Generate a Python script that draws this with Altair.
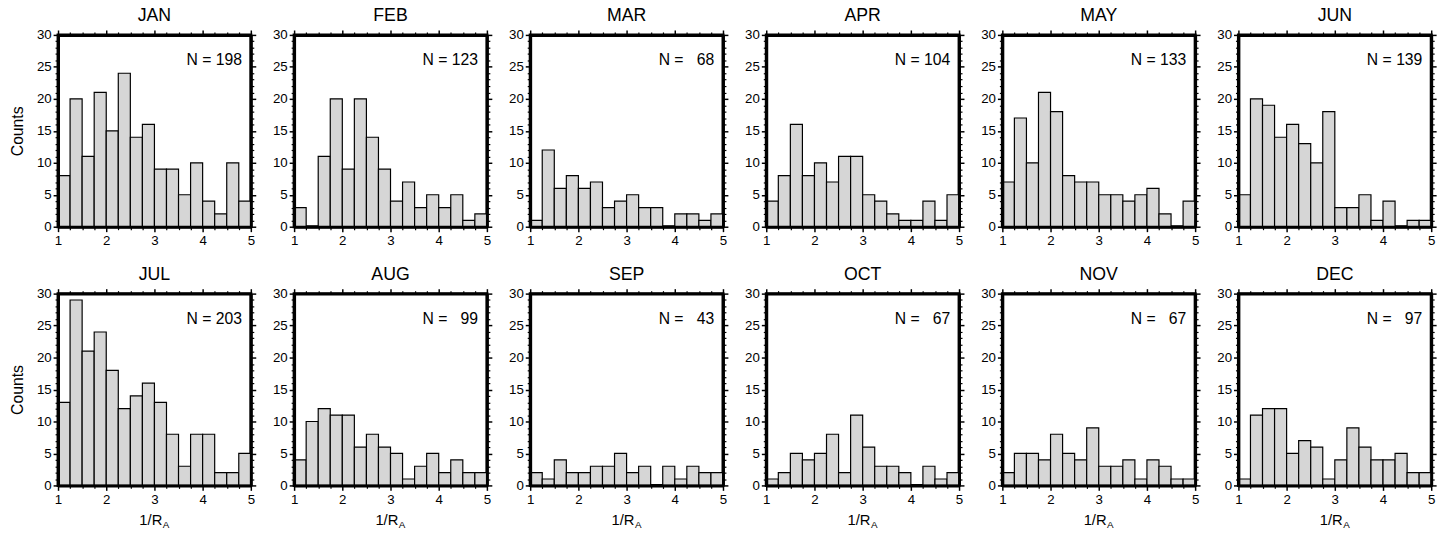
import altair as alt
import pandas as pd

# ---- data: monthly histograms of 1/R_A, bins of width 0.25 from 1 to 5 ----
MONTHS = ["JAN", "FEB", "MAR", "APR", "MAY", "JUN",
          "JUL", "AUG", "SEP", "OCT", "NOV", "DEC"]
N_TOTAL = [198, 123, 68, 104, 133, 139, 203, 99, 43, 67, 67, 97]

BIN_LO = [1.00, 1.25, 1.50, 1.75, 2.00, 2.25, 2.50, 2.75,
          3.00, 3.25, 3.50, 3.75, 4.00, 4.25, 4.50, 4.75]
BIN_HI = [1.25, 1.50, 1.75, 2.00, 2.25, 2.50, 2.75, 3.00,
          3.25, 3.50, 3.75, 4.00, 4.25, 4.50, 4.75, 5.00]

JAN = [8, 20, 11, 21, 15, 24, 14, 16, 9, 9, 5, 10, 4, 2, 10, 4]
FEB = [3, 0, 11, 20, 9, 20, 14, 9, 4, 7, 3, 5, 3, 5, 1, 2]
MAR = [1, 12, 6, 8, 6, 7, 3, 4, 5, 3, 3, 0, 2, 2, 1, 2]
APR = [4, 8, 16, 8, 10, 7, 11, 11, 5, 4, 2, 1, 1, 4, 1, 5]
MAY = [7, 17, 10, 21, 18, 8, 7, 7, 5, 5, 4, 5, 6, 2, 0, 4]
JUN = [5, 20, 19, 14, 16, 13, 10, 18, 3, 3, 5, 1, 4, 0, 1, 1]
JUL = [13, 29, 21, 24, 18, 12, 14, 16, 13, 8, 3, 8, 8, 2, 2, 5]
AUG = [4, 10, 12, 11, 11, 6, 8, 6, 5, 1, 3, 5, 2, 4, 2, 2]
SEP = [2, 1, 4, 2, 2, 3, 3, 5, 2, 3, 0, 3, 1, 3, 2, 2]
OCT = [1, 2, 5, 4, 5, 8, 2, 11, 6, 3, 3, 2, 0, 3, 1, 2]
NOV = [2, 5, 5, 4, 8, 5, 4, 9, 3, 3, 4, 1, 4, 3, 1, 1]
DEC = [1, 11, 12, 12, 5, 7, 6, 1, 4, 9, 6, 4, 4, 5, 2, 2]
COUNTS = [JAN, FEB, MAR, APR, MAY, JUN, JUL, AUG, SEP, OCT, NOV, DEC]

X_MAJOR = [1, 2, 3, 4, 5]
X_MINOR = [1.25, 1.5, 1.75, 2.25, 2.5, 2.75, 3.25, 3.5, 3.75, 4.25, 4.5, 4.75]
Y_MAJOR = [0, 5, 10, 15, 20, 25, 30]
Y_MINOR = [i for i in range(31) if i % 5]

# ---- styling ----
FONT = "Liberation Sans"
W, H = 196, 195
MAJOR_TICK, MINOR_TICK = 5, 3
FRAME = 3


def axis(orient, values, size, labels=False, title=None, domain=False, width=1.5):
    kw = dict(orient=orient, values=values, tickSize=size, tickWidth=width,
              tickColor="black", labels=labels, domain=domain, grid=False,
              title=title, zindex=1)
    if domain:
        kw.update(domainColor="black", domainWidth=FRAME)
    if labels:
        kw.update(labelFont=FONT, labelFontSize=13.5, labelColor="black",
                  labelPadding=2, labelFlush=False, labelOverlap=False)
    if title:
        kw.update(titleFont=FONT, titleFontSize=16, titleFontWeight="normal",
                  titleColor="black", titlePadding=11)
    return alt.Axis(**kw)


def n_label(n):
    # pad two-digit totals with a figure space so digits stay right-aligned
    return f"N = {n}" if n >= 100 else f"N = \u2007{n}"


def panel(idx):
    df = pd.DataFrame({"lo": BIN_LO, "hi": BIN_HI, "count": COUNTS[idx]})
    df = df[df["count"] > 0]
    xs = alt.Scale(domain=[1, 5], nice=False, zero=False, padding=0)
    ys = alt.Scale(domain=[0, 30], nice=False, padding=0)
    first_col = idx % 6 == 0
    last_row = idx >= 6
    base = alt.Chart(df)

    bars = base.mark_bar(fill="#d6d6d6", stroke="black", strokeWidth=1.2).encode(
        x=alt.X("lo:Q", scale=xs,
                axis=axis("bottom", X_MAJOR, MAJOR_TICK, labels=True, domain=True)),
        x2="hi:Q",
        y=alt.Y("count:Q", scale=ys,
                axis=axis("left", Y_MAJOR, MAJOR_TICK, labels=True, domain=True,
                          title="Counts" if first_col else None)),
        y2=alt.datum(0),
    )

    def ticks_only(xo, xv, xsz, yo, yv, ysz, domain=False, width=1.5):
        return base.mark_point(opacity=0).encode(
            x=alt.X("lo:Q", scale=xs, axis=axis(xo, xv, xsz, domain=domain, width=width)),
            y=alt.Y("count:Q", scale=ys, axis=axis(yo, yv, ysz, domain=domain, width=width)),
        )

    layers = [
        bars,
        ticks_only("bottom", X_MINOR, MINOR_TICK, "left", Y_MINOR, MINOR_TICK, width=1.2),
        ticks_only("top", X_MAJOR, MAJOR_TICK, "right", Y_MAJOR, MAJOR_TICK, domain=True),
        ticks_only("top", X_MINOR, MINOR_TICK, "right", Y_MINOR, MINOR_TICK, width=1.2),
    ]

    note = alt.Chart(pd.DataFrame({"t": [n_label(N_TOTAL[idx])]})).mark_text(
        align="right", baseline="middle", font=FONT, fontSize=16, color="black"
    ).encode(x=alt.value(W - 9), y=alt.value(26), text="t:N")
    layers.append(note)

    if last_row:
        main = alt.Chart(pd.DataFrame({"t": ["1/R"]})).mark_text(
            align="right", baseline="alphabetic", font=FONT, fontSize=15, color="black"
        ).encode(x=alt.value(W / 2 + 8), y=alt.value(H + 40), text="t:N")
        sub = alt.Chart(pd.DataFrame({"t": ["A"]})).mark_text(
            align="left", baseline="alphabetic", font=FONT, fontSize=10, color="black"
        ).encode(x=alt.value(W / 2 + 8.5), y=alt.value(H + 43), text="t:N")
        layers += [main, sub]

    return alt.layer(*layers).resolve_axis(x="independent", y="independent").properties(
        width=W, height=H,
        title=alt.TitleParams(MONTHS[idx], font=FONT, fontSize=18, fontWeight="normal",
                              color="black", offset=3),
    )


row1 = alt.hconcat(*[panel(i) for i in range(6)], spacing=12)
row2 = alt.hconcat(*[panel(i) for i in range(6, 12)], spacing=12)

chart = alt.vconcat(row1, row2, spacing=16).configure_view(
    stroke="black", strokeWidth=FRAME
).properties(
    padding={"left": 8, "top": 1, "right": 5, "bottom": 5},
    background="white",
)

chart.save("out.html", embed_options={"renderer": "svg", "actions": False})
